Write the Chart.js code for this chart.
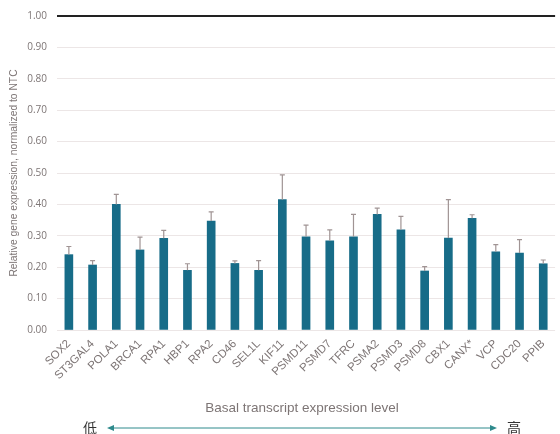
<!DOCTYPE html>
<html>
<head>
<meta charset="utf-8">
<script src="https://cdn.jsdelivr.net/npm/chart.js@4/dist/chart.umd.min.js"></script>
<style>
  html, body { margin: 0; padding: 0; background: #ffffff; }
  #wrap { position: relative; width: 560px; height: 434px; }
</style>
</head>
<body>
<div id="wrap"><canvas id="c" width="560" height="434"></canvas></div>
<script>
// Genes, ordered from low to high basal transcript expression
const genes = ['SOX2', 'ST3GAL4', 'POLA1', 'BRCA1', 'RPA1', 'HBP1', 'RPA2', 'CD46', 'SEL1L',
  'KIF11', 'PSMD11', 'PSMD7', 'TFRC', 'PSMA2', 'PSMD3', 'PSMD8', 'CBX1', 'CANX*', 'VCP', 'CDC20', 'PPIB'];

// Relative expression (normalized to NTC)
const expression = [0.240, 0.207, 0.400, 0.255, 0.292, 0.190, 0.347, 0.212, 0.190,
  0.415, 0.297, 0.284, 0.297, 0.368, 0.319, 0.188, 0.293, 0.356, 0.249, 0.245, 0.211];

// Upper error (standard deviation)
const errorUp = [0.026, 0.014, 0.032, 0.041, 0.025, 0.021, 0.029, 0.008, 0.031,
  0.079, 0.037, 0.035, 0.071, 0.020, 0.043, 0.014, 0.122, 0.011, 0.023, 0.043, 0.012];

const yTicks = [0, 0.1, 0.2, 0.3, 0.4, 0.5, 0.6, 0.7, 0.8, 0.9, 1.0];

const BAR_COLOR = '#176c88';
const ERR_COLOR = '#a09494';
const TEXT_COLOR = '#7d7575';
const SANS = '"Liberation Sans", Arial, sans-serif';

// Upper error whiskers with caps
const errorBars = {
  id: 'errorBars',
  afterDatasetsDraw(chart) {
    const { ctx, scales: { x, y } } = chart;
    ctx.save();
    ctx.strokeStyle = ERR_COLOR;
    ctx.lineWidth = 1.2;
    expression.forEach((v, i) => {
      const px = x.getPixelForValue(i);
      const top = y.getPixelForValue(v + errorUp[i]);
      const base = y.getPixelForValue(v);
      ctx.beginPath();
      ctx.moveTo(px, base);
      ctx.lineTo(px, top);
      ctx.moveTo(px - 2.5, top);
      ctx.lineTo(px + 2.5, top);
      ctx.stroke();
    });
    ctx.restore();
  }
};

// Axis title plus the low-to-high expression arrow beneath it
const expressionArrow = {
  id: 'expressionArrow',
  afterDraw(chart) {
    const { ctx } = chart;
    ctx.save();
    ctx.fillStyle = TEXT_COLOR;
    ctx.font = '13.5px ' + SANS;
    ctx.textAlign = 'center';
    ctx.textBaseline = 'middle';
    ctx.fillText('Basal transcript expression level', 302, 408);

    const yArrow = 428;
    const x0 = 107, x1 = 497;
    ctx.strokeStyle = '#2e8a8c';
    ctx.fillStyle = '#2e8a8c';
    ctx.lineWidth = 1;
    ctx.beginPath();
    ctx.moveTo(x0 + 5, yArrow);
    ctx.lineTo(x1 - 5, yArrow);
    ctx.stroke();
    ctx.beginPath();
    ctx.moveTo(x0, yArrow);
    ctx.lineTo(x0 + 7, yArrow - 3);
    ctx.lineTo(x0 + 7, yArrow + 3);
    ctx.closePath();
    ctx.fill();
    ctx.beginPath();
    ctx.moveTo(x1, yArrow);
    ctx.lineTo(x1 - 7, yArrow - 3);
    ctx.lineTo(x1 - 7, yArrow + 3);
    ctx.closePath();
    ctx.fill();
    ctx.fillStyle = '#333333';
    ctx.font = '14px "Noto Sans CJK SC"';
    ctx.fillText('低', 90, yArrow);
    ctx.fillText('高', 514, yArrow);
    ctx.restore();
  }
};

new Chart(document.getElementById('c'), {
  type: 'bar',
  data: {
    labels: genes,
    datasets: [{
      data: expression,
      backgroundColor: BAR_COLOR,
      borderWidth: 0,
      barThickness: 8
    }]
  },
  options: {
    responsive: false,
    animation: false,
    devicePixelRatio: 1,
    layout: { padding: { top: 16, right: 0, bottom: 0, left: 8 } },
    plugins: {
      legend: { display: false },
      tooltip: { enabled: false }
    },
    scales: {
      x: {
        grid: { display: false, drawTicks: false },
        border: { display: false },
        ticks: {
          color: TEXT_COLOR,
          font: { family: SANS, size: 11.5 },
          minRotation: 45,
          maxRotation: 45,
          autoSkip: false,
          padding: 7
        },
        afterFit(scale) { scale.height = 104; }
      },
      y: {
        min: 0,
        max: 1,
        afterBuildTicks(scale) { scale.ticks = yTicks.map(v => ({ value: v })); },
        grid: {
          drawTicks: false,
          color: ctx => (ctx.tick && ctx.tick.value === 1 ? '#222222' : '#ece6e6'),
          lineWidth: ctx => (ctx.tick && ctx.tick.value === 1 ? 2 : 1)
        },
        border: { display: false },
        ticks: {
          color: TEXT_COLOR,
          font: { family: '"Open Sans", sans-serif', size: 10 },
          padding: 10,
          callback: v => Number(v).toFixed(2)
        },
        title: {
          display: true,
          text: 'Relative gene expression, normalized to NTC',
          color: TEXT_COLOR,
          font: { family: SANS, size: 10.3 },
          padding: { top: 0, bottom: 2 }
        },
        afterFit(scale) { scale.width = 49; }
      }
    }
  },
  plugins: [errorBars, expressionArrow]
});
</script>
</body>
</html>
